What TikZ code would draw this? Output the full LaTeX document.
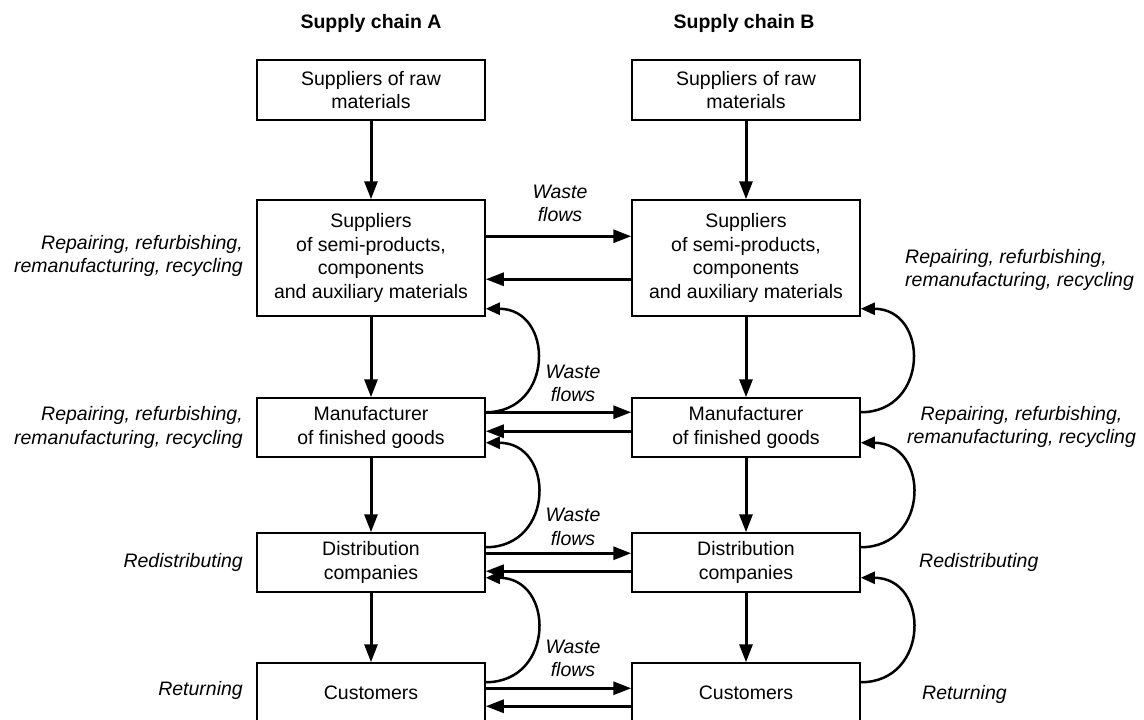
\documentclass[tikz,border=0pt]{standalone}
\usepackage{fontspec}
\setmainfont{Liberation Sans}
\usetikzlibrary{arrows.meta}
\newcommand{\chainfont}{\fontsize{19.5pt}{23.5pt}\selectfont}

\begin{document}
\begin{tikzpicture}[x=1pt, y=-1pt,
    box/.style={draw, line width=1.5pt, minimum width=228pt, inner sep=0pt, align=center, font=\chainfont},
    title/.style={font=\chainfont\bfseries, inner sep=0pt},
    lbl/.style={font=\chainfont\itshape, inner sep=0pt},
    flow/.style={line width=3pt, -{Triangle[length=18pt, width=13pt]}},
    loopflow/.style={line width=2.5pt, -{Triangle[length=14pt, width=12pt]}}]
    \useasboundingbox (0,0) rectangle (1144,720);

    \node[title] (titleA) at (371,23) {Supply chain A};
    \node[title] (titleB) at (744,23) {Supply chain B};

    \foreach \c/\x in {A/371, B/746} {
        \node[box, minimum height=60pt] (\c1) at (\x,90) {Suppliers of raw\\materials};
        \node[box, minimum height=116pt] (\c2) at (\x,258) {Suppliers\\of semi-products,\\components\\and auxiliary materials};
        \node[box, minimum height=59pt] (\c3) at (\x,427.5) {Manufacturer\\of finished goods};
        \node[box, minimum height=59pt] (\c4) at (\x,562.5) {Distribution\\companies};
        \node[box, minimum height=60pt] (\c5) at (\x,693) {Customers};
        \foreach \i/\j in {1/2, 2/3, 3/4, 4/5}
            \draw[flow] (\c\i) -- (\c\j);
        \foreach \i/\j/\s/\t in {3/2/15pt/8pt, 4/3/15pt/15pt, 5/4/20pt/15pt}
            \draw[loopflow] ([yshift=-\s]\c\i.north east) to[out=0, in=0, looseness=1.7] ([yshift=\t]\c\j.south east);
    }

    \foreach \i/\fw/\bw in {2/37pt/80pt, 3/15pt/34pt, 4/21pt/39pt, 5/26pt/44pt} {
        \draw[flow] ([yshift=-\fw]A\i.north east) -- ([yshift=-\fw]B\i.north west);
        \draw[flow] ([yshift=-\bw]B\i.north west) -- ([yshift=-\bw]A\i.north east);
    }

    \node[lbl, align=center] (waste2) at (560,203.5) {Waste\\flows};
    \node[lbl, align=center] (waste3) at (573,383.5) {Waste\\flows};
    \node[lbl, align=center] (waste4) at (573,527) {Waste\\flows};
    \node[lbl, align=center] (waste5) at (573,658.5) {Waste\\flows};

    \node[lbl, anchor=east, align=right] (repairA2) at (243,256) {Repairing, refurbishing,\\remanufacturing, recycling};
    \node[lbl, anchor=east, align=right] (repairA3) at (243,427.5) {Repairing, refurbishing,\\remanufacturing, recycling};
    \node[lbl, anchor=east] (redistA) at (243,562) {Redistributing};
    \node[lbl, anchor=east] (returnA) at (243,690) {Returning};

    \node[lbl, anchor=west, align=left] (repairB2) at (905,270) {Repairing, refurbishing,\\remanufacturing, recycling};
    \node[lbl, anchor=west, align=center] (repairB3) at (907,427) {Repairing, refurbishing,\\remanufacturing, recycling};
    \node[lbl, anchor=west] (redistB) at (919,562) {Redistributing};
    \node[lbl, anchor=west] (returnB) at (922,694) {Returning};
\end{tikzpicture}
\end{document}
